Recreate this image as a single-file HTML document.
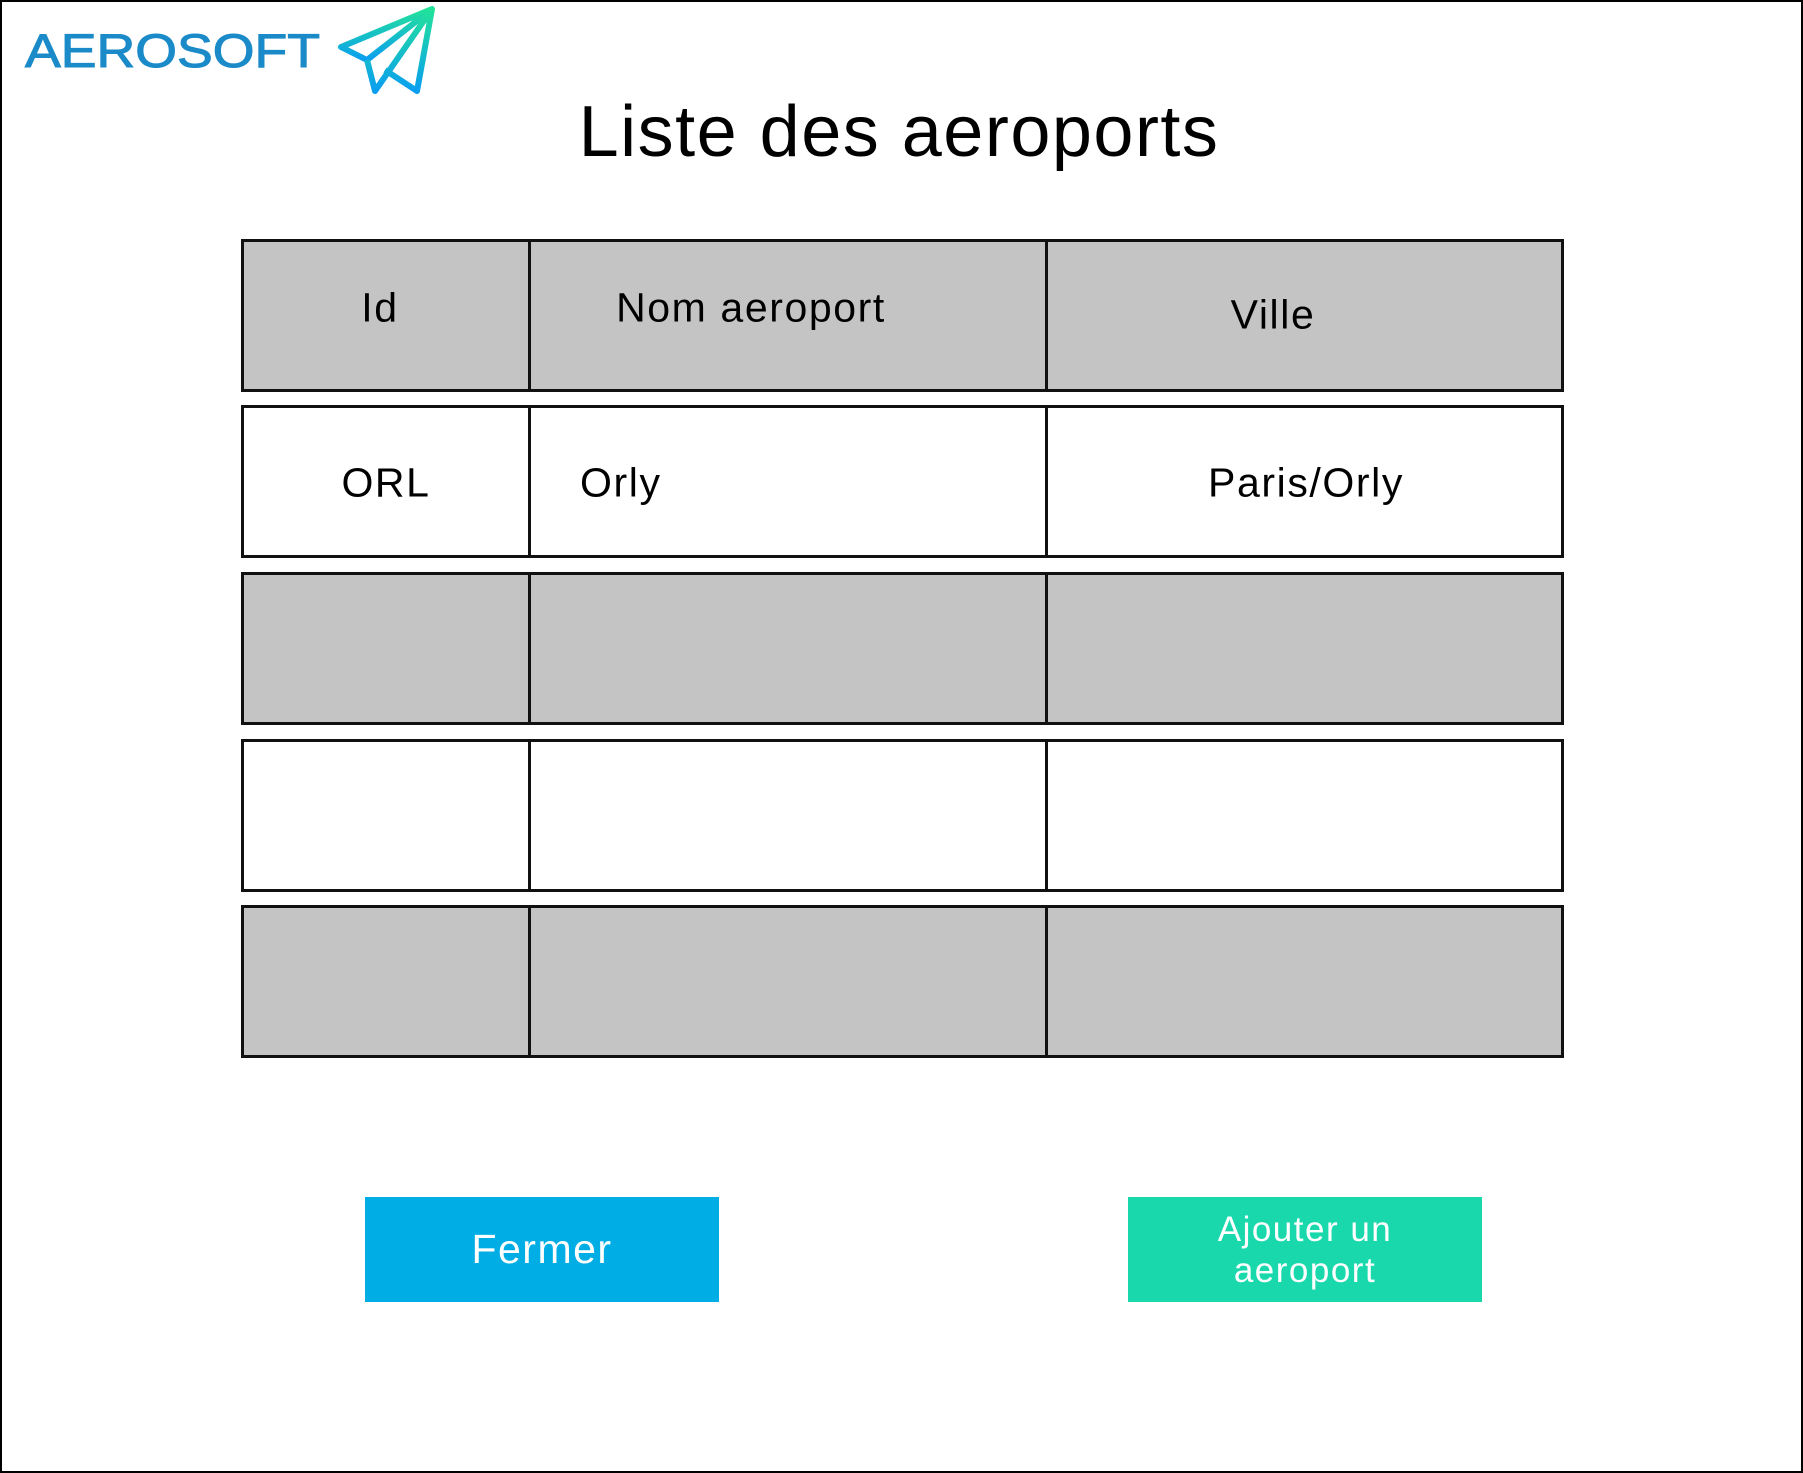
<!DOCTYPE html>
<html><head><meta charset="utf-8"><style>
html,body{margin:0;padding:0;}
body{width:1803px;height:1473px;position:relative;background:#fff;font-family:"Liberation Sans",sans-serif;overflow:hidden;}
.frame{position:absolute;left:0;top:0;width:1799px;height:1469px;border:2px solid #000;}
.c{position:absolute;box-sizing:border-box;border:3px solid #111;}
.g{background:#c4c4c4;}
.t{position:absolute;font-size:41px;letter-spacing:1.6px;color:#000;white-space:nowrap;transform:translate(-50%,-50%);}
.btn{position:absolute;color:#fff;text-align:center;display:flex;align-items:center;justify-content:center;letter-spacing:1.5px;}
</style></head><body>
<div class="frame"></div>
<svg style="position:absolute;left:0;top:0" width="460" height="110">
<defs><linearGradient id="gr" x1="0" y1="0" x2="0" y2="1"><stop offset="0" stop-color="#22e39a"/><stop offset="1" stop-color="#0a9ef0"/></linearGradient></defs>
<text x="25" y="67" font-family="Liberation Sans" font-size="47" fill="#1a8ac8" stroke="#1a8ac8" stroke-width="1" textLength="295" lengthAdjust="spacingAndGlyphs">AEROSOFT</text>
<g fill="none" stroke="url(#gr)" stroke-width="6" stroke-linejoin="round">
<path d="M432 9 L341 47 L367 60 Z"/>
<path d="M432 9 L375 91 L367 60"/>
<path d="M432 9 L417 91 L385 70"/>
</g>
</svg>
<div class="t" style="left:899px;top:132px;font-size:72px;letter-spacing:1.5px;">Liste des aeroports</div>

<div class="c g" style="left:241px;top:239px;width:290px;height:153px"></div>
<div class="c g" style="left:528px;top:239px;width:520px;height:153px"></div>
<div class="c g" style="left:1045px;top:239px;width:519px;height:153px"></div>

<div class="c" style="left:241px;top:405px;width:290px;height:153px"></div>
<div class="c" style="left:528px;top:405px;width:520px;height:153px"></div>
<div class="c" style="left:1045px;top:405px;width:519px;height:153px"></div>

<div class="c g" style="left:241px;top:572px;width:290px;height:153px"></div>
<div class="c g" style="left:528px;top:572px;width:520px;height:153px"></div>
<div class="c g" style="left:1045px;top:572px;width:519px;height:153px"></div>

<div class="c" style="left:241px;top:739px;width:290px;height:153px"></div>
<div class="c" style="left:528px;top:739px;width:520px;height:153px"></div>
<div class="c" style="left:1045px;top:739px;width:519px;height:153px"></div>

<div class="c g" style="left:241px;top:905px;width:290px;height:153px"></div>
<div class="c g" style="left:528px;top:905px;width:520px;height:153px"></div>
<div class="c g" style="left:1045px;top:905px;width:519px;height:153px"></div>

<div class="t" style="left:380px;top:308px">Id</div>
<div class="t" style="left:751px;top:308px">Nom aeroport</div>
<div class="t" style="left:1273px;top:315px">Ville</div>
<div class="t" style="left:386px;top:483px">ORL</div>
<div class="t" style="left:580px;top:483px;transform:translate(0,-50%)">Orly</div>
<div class="t" style="left:1306px;top:483px">Paris/Orly</div>

<div class="btn" style="left:365px;top:1197px;width:354px;height:105px;background:#00aee5;font-size:41px;">Fermer</div>
<div class="btn" style="left:1128px;top:1197px;width:354px;height:105px;background:#19d9ac;font-size:35px;line-height:41px;">Ajouter un<br>aeroport</div>
</body></html>
